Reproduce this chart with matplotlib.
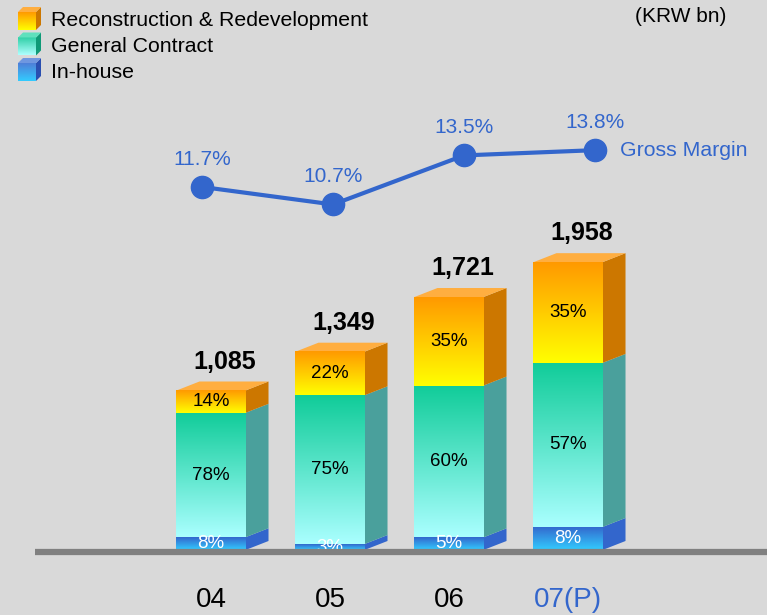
import numpy as np
import matplotlib
matplotlib.use("Agg")
from matplotlib import pyplot as plt
from matplotlib.colors import LinearSegmentedColormap
from matplotlib.patches import Polygon
import matplotlib.transforms as mtransforms

plt.rcParams['font.family'] = ['Liberation Sans', 'DejaVu Sans']

# data
years = ['04', '05', '06', '07(P)']
totals = [1085, 1349, 1721, 1958]
inhouse_pct = [8, 3, 5, 8]
general_pct = [78, 75, 60, 57]
recon_pct = [14, 22, 35, 35]
gross_margin = [11.7, 10.7, 13.5, 13.8]
legend_names = ['Reconstruction & Redevelopment', 'General Contract', 'In-house']

BG = '#d9d9d9'
BLUE = '#3366cc'

# (bottom colour, top colour, side colour, label colour)
styles = {
    'inhouse': ('#33ccff', '#3366cc', '#3366cc', 'white'),
    'general': ('#aaffff', '#10cc99', '#4aa09c', 'black'),
    'recon':   ('#ffff00', '#ff9900', '#cc7700', 'black'),
}
top_face = '#ffae40'

fig = plt.figure(figsize=(7.67, 6.15), dpi=100)
fig.patch.set_facecolor(BG)

# main axes: bars in KRW bn, ~0.147 px per bn, category spacing 119 px
ax = fig.add_axes([0, 0, 1, 1])
ax.set_facecolor(BG)
ax.axis('off')
px_per_bn = 0.147
xlim = ((0 - 211) / 119, (767 - 211) / 119)
ylim = (-65 / px_per_bn, 550 / px_per_bn)

width = 0.58
dx = 23 / 119
dy = 9 / px_per_bn
grad = np.linspace(0, 1, 256).reshape(-1, 1)

for i, tot in enumerate(totals):
    x0 = i - width / 2
    x1 = i + width / 2
    bottom = 0.0
    segs = [('inhouse', inhouse_pct[i]), ('general', general_pct[i]), ('recon', recon_pct[i])]
    for key, pct in segs:
        h = tot * pct / 100.0
        c_bot, c_top, c_side, c_lab = styles[key]
        cmap = LinearSegmentedColormap.from_list(key, [c_bot, c_top])
        ax.imshow(grad, extent=[x0, x1, bottom, bottom + h], origin='lower',
                  cmap=cmap, aspect='auto', zorder=3, interpolation='bilinear')
        side = Polygon([(x1, bottom), (x1 + dx, bottom + dy), (x1 + dx, bottom + h + dy), (x1, bottom + h)],
                       closed=True, facecolor=c_side, edgecolor='none', zorder=2)
        ax.add_patch(side)
        ax.text(i, bottom + h / 2, f'{pct}%', ha='center', va='center', fontsize=13.5,
                color=c_lab, zorder=4)
        bottom += h
    top = Polygon([(x0, bottom), (x0 + dx, bottom + dy), (x1 + dx, bottom + dy), (x1, bottom)],
                  closed=True, facecolor=top_face, edgecolor='none', zorder=2)
    ax.add_patch(top)
    ax.text(i + dx * 0.6, bottom + dy + 20 / px_per_bn, f'{tot:,}', ha='center', va='center',
            fontsize=18, fontweight='bold', color='black', zorder=4)

# baseline
ax.hlines(-2 / px_per_bn, (35 - 211) / 119, xlim[1], color='#808080', lw=4.5, zorder=5)

# x labels
trans = mtransforms.blended_transform_factory(ax.transData, ax.transAxes)
for i, lab in enumerate(years):
    col = BLUE if 'P' in lab else 'black'
    ax.text(i, 1 - 600 / 615, lab, transform=trans, ha='center', va='center',
            fontsize=20, color=col)

ax.set_xlim(*xlim)
ax.set_ylim(*ylim)

# gross margin line on its own scale
ax2 = fig.add_axes([0, 0, 1, 1])
ax2.patch.set_alpha(0)
ax2.axis('off')
idx = np.arange(len(gross_margin))
ax2.plot(idx, gross_margin, color=BLUE, lw=3, marker='o', markersize=16, zorder=6)
for i, v in enumerate(gross_margin):
    ax2.annotate(f'{v}%', (i, v), xytext=(0, 20), textcoords='offset points',
                 ha='center', va='center', fontsize=15, color=BLUE)
ax2.annotate('Gross Margin', (idx[-1], gross_margin[-1]), xytext=(18, 0),
             textcoords='offset points', ha='left', va='center', fontsize=15.3, color=BLUE)
ax2.set_xlim((0 - 202) / 131, (767 - 202) / 131)
ax2.set_ylim(12.425 - (615 - 174.25) / 17.52, 12.425 + 174.25 / 17.52)

# legend with little cubes (pixel coords)
lax = fig.add_axes([0, 0, 1, 1])
lax.patch.set_alpha(0)
lax.axis('off')
icon_cols = [('#ffff00', '#ff9900', '#cc7700', '#ffae40'),
             ('#afffff', '#2ecfa5', '#0f9a77', '#5fe0bd'),
             ('#33ccff', '#4f7fd8', '#2a4fb0', '#6f97e0')]
for k, name in enumerate(legend_names):
    yc = 21 + 25.5 * k
    y_top = yc - 9
    y_bot = yc + 9
    c_bot, c_top, c_side, c_tp = icon_cols[k]
    cmap = LinearSegmentedColormap.from_list('ic%d' % k, [c_bot, c_top])
    lax.imshow(grad, extent=[18, 36, y_bot, y_top], origin='lower', cmap=cmap,
               aspect='auto', interpolation='bilinear')
    lax.add_patch(Polygon([(36, y_bot), (41, y_bot - 5), (41, y_top - 5), (36, y_top)],
                          facecolor=c_side, edgecolor='none'))
    lax.add_patch(Polygon([(18, y_top), (23, y_top - 5), (41, y_top - 5), (36, y_top)],
                          facecolor=c_tp, edgecolor='none'))
    lax.text(51, yc, name, ha='left', va='center', fontsize=15.3, color='black')
lax.text(681, 17, '(KRW bn)', ha='center', va='center', fontsize=15, color='black')
lax.set_xlim(0, 767)
lax.set_ylim(615, 0)

fig.savefig('out.png', dpi=100, facecolor=BG)
